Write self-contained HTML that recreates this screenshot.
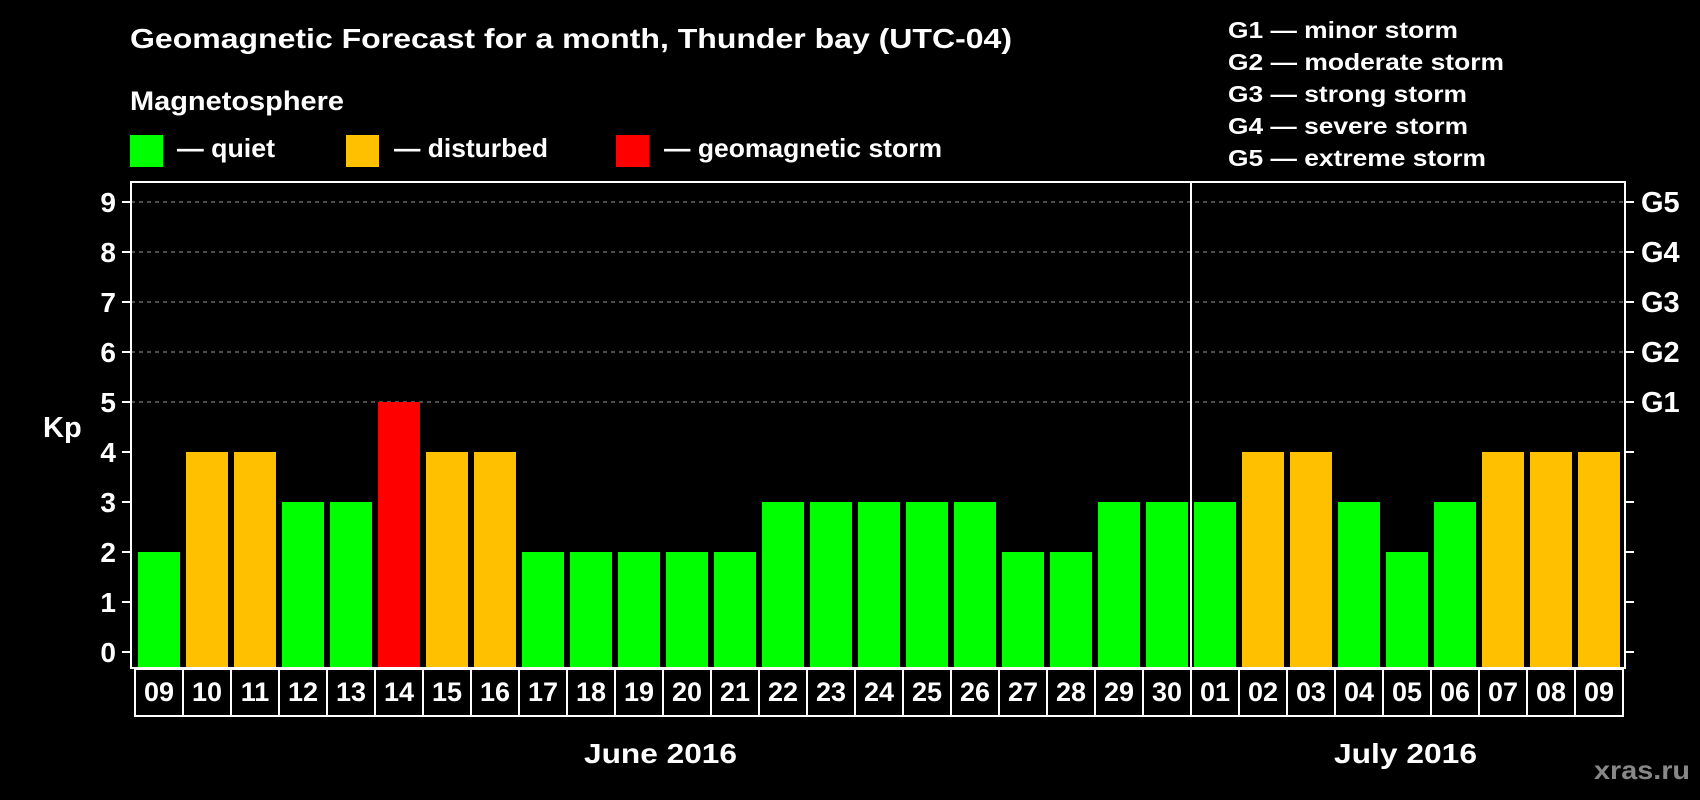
<!DOCTYPE html>
<html><head><meta charset="utf-8"><style>
html,body{margin:0;padding:0;background:#000;}
svg{display:block;font-family:"Liberation Sans",Arial,sans-serif;font-weight:bold;}
</style></head><body>
<svg id="chart" width="1700" height="800" viewBox="0 0 1700 800" xmlns="http://www.w3.org/2000/svg">
<rect x="0" y="0" width="1700" height="800" fill="#000"/>
<text x="130" y="48" font-size="28" fill="#fff" textLength="882" lengthAdjust="spacingAndGlyphs">Geomagnetic Forecast for a month, Thunder bay (UTC-04)</text>
<text x="130" y="110" font-size="27" fill="#fff" textLength="214" lengthAdjust="spacingAndGlyphs">Magnetosphere</text>
<g>
<rect x="130" y="135" width="33" height="32" fill="#00ff00"/>
<text x="177" y="157" font-size="26" fill="#fff" textLength="98" lengthAdjust="spacingAndGlyphs">— quiet</text></g>
<g>
<rect x="346" y="135" width="33" height="32" fill="#ffc000"/>
<text x="394" y="157" font-size="26" fill="#fff" textLength="154" lengthAdjust="spacingAndGlyphs">— disturbed</text></g>
<g>
<rect x="616" y="135" width="33" height="32" fill="#ff0000"/>
<text x="664" y="157" font-size="26" fill="#fff" textLength="278" lengthAdjust="spacingAndGlyphs">— geomagnetic storm</text></g>
<g font-size="23" fill="#fff">
<text x="1228" y="38" textLength="230" lengthAdjust="spacingAndGlyphs">G1 — minor storm</text>
<text x="1228" y="70" textLength="276" lengthAdjust="spacingAndGlyphs">G2 — moderate storm</text>
<text x="1228" y="102" textLength="239" lengthAdjust="spacingAndGlyphs">G3 — strong storm</text>
<text x="1228" y="134" textLength="240" lengthAdjust="spacingAndGlyphs">G4 — severe storm</text>
<text x="1228" y="166" textLength="258" lengthAdjust="spacingAndGlyphs">G5 — extreme storm</text>
</g>
<text x="43" y="437" font-size="29" fill="#fff">Kp</text>
<g id="grid"></g><g id="bars"></g><g id="axes"></g><g id="days"></g>
<text x="584" y="763" font-size="28" fill="#fff" textLength="153" lengthAdjust="spacingAndGlyphs">June 2016</text>
<text x="1334" y="763" font-size="28" fill="#fff" textLength="143" lengthAdjust="spacingAndGlyphs">July 2016</text>
<text x="1594" y="779" font-size="26" fill="#888" textLength="96" lengthAdjust="spacingAndGlyphs">xras.ru</text>
</svg>
<script>
const days = ["09","10","11","12","13","14","15","16","17","18","19","20","21","22","23","24","25","26","27","28","29","30","01","02","03","04","05","06","07","08","09"];
const kpValues = [2,4,4,3,3,5,4,4,2,2,2,2,2,3,3,3,3,3,2,2,3,3,3,4,4,3,2,3,4,4,4];
const yTicks = [0,1,2,3,4,5,6,7,8,9];
const gTicks = [5,6,7,8,9];
const gLabels = ["G1","G2","G3","G4","G5"];
const monthBreakIndex = 22;

const NS = "http://www.w3.org/2000/svg";
const plotL = 131, plotR = 1625, plotT = 182, plotB = 668;
const y0 = 652, unit = 50;
const firstCenter = 159, pitch = 48, barW = 42;
function yScale(v){ return y0 - v*unit; }
function xCenter(i){ return firstCenter + i*pitch; }
function mk(tag, attrs, parent){ const e = document.createElementNS(NS, tag); for (const k in attrs) e.setAttribute(k, attrs[k]); parent.appendChild(e); return e; }
function colorFor(v){ return v >= 5 ? "#ff0000" : (v >= 4 ? "#ffc000" : "#00ff00"); }

const grid = document.getElementById("grid");
gTicks.forEach(t => {
  const l = mk("line", {x1: plotL, x2: plotR, y1: yScale(t), y2: yScale(t), stroke: "#999", "stroke-width": 1, "stroke-dasharray": "4 4"}, grid);
  
  
});

const bars = document.getElementById("bars");
kpValues.forEach((v, i) => {
  const r = mk("rect", {x: xCenter(i) - barW/2, y: yScale(v), width: barW, height: plotB - yScale(v), fill: colorFor(v)}, bars);
  
  
});

const axes = document.getElementById("axes");
const frame = mk("rect", {x: plotL, y: plotT, width: plotR - plotL, height: plotB - plotT, fill: "none", stroke: "#fff", "stroke-width": 2}, axes);


yTicks.forEach(t => {
  const tl = mk("line", {x1: plotL - 9, x2: plotL, y1: yScale(t), y2: yScale(t), stroke: "#fff", "stroke-width": 2}, axes);
  
  
  const tx = mk("text", {x: 116, y: yScale(t) + 10, "font-size": 28, fill: "#fff", "text-anchor": "end"}, axes);
  tx.textContent = String(t);
  
  
  const tr = mk("line", {x1: plotR, x2: plotR + 9, y1: yScale(t), y2: yScale(t), stroke: "#fff", "stroke-width": 2}, axes);
  
  
});
gTicks.forEach((t, k) => {
  const g = mk("text", {x: 1641, y: yScale(t) + 10, "font-size": 29, fill: "#fff"}, axes);
  g.textContent = gLabels[k];
  
  
});

const dayG = document.getElementById("days");
const boxT = 669, boxB = 716;
const lb = mk("rect", {x: xCenter(0) - pitch/2, y: boxT, width: pitch*days.length, height: boxB - boxT, fill: "none", stroke: "#fff", "stroke-width": 2}, dayG);


days.forEach((d, i) => {
  if (i > 0) {
    const s = mk("line", {x1: xCenter(i) - pitch/2, x2: xCenter(i) - pitch/2, y1: boxT, y2: boxB, stroke: "#fff", "stroke-width": 2}, dayG);
    
    
  }
  const t = mk("text", {x: xCenter(i), y: 701, "font-size": 27, fill: "#fff", "text-anchor": "middle"}, dayG);
  t.textContent = d;
  
  
});
const div = mk("line", {x1: xCenter(monthBreakIndex) - pitch/2, x2: xCenter(monthBreakIndex) - pitch/2, y1: plotT, y2: boxB, stroke: "#fff", "stroke-width": 2}, axes);


</script>
</body></html>
